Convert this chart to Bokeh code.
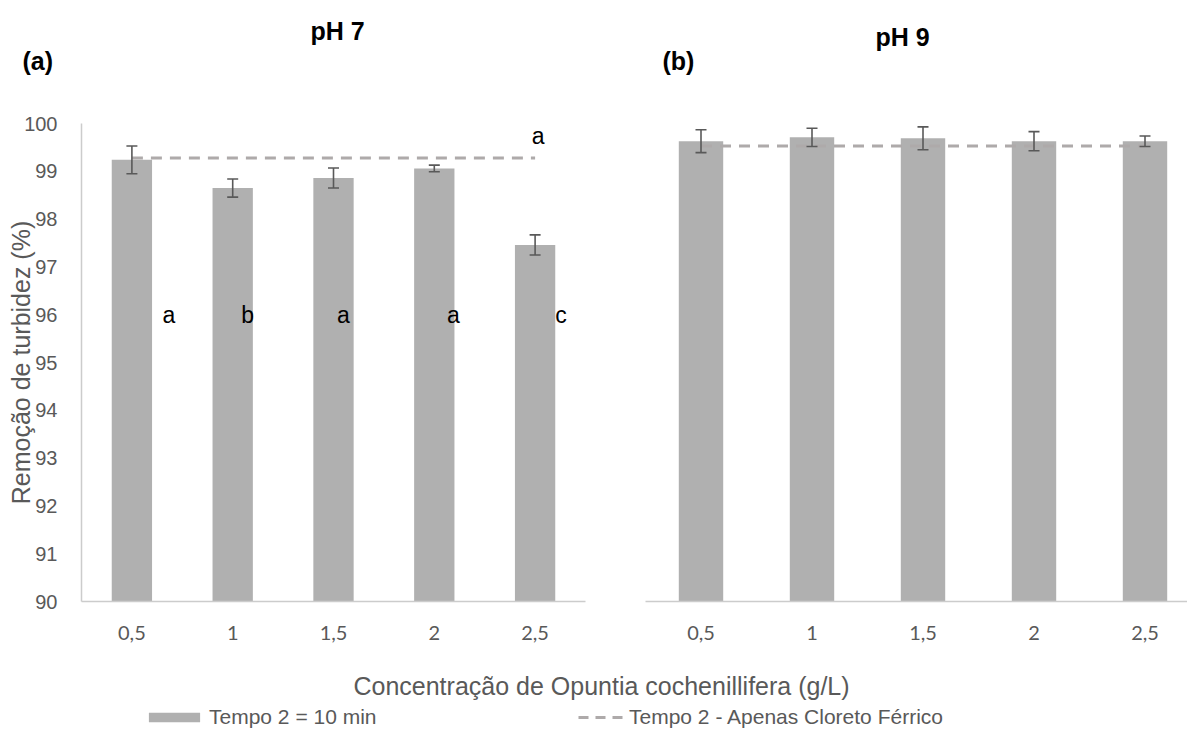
import numpy as np
from bokeh.plotting import figure
from bokeh.models import (Range1d, FixedTicker, Whisker, ColumnDataSource, Label,
                          Legend, LegendItem, TeeHead)
from bokeh.layouts import column, row
from bokeh.embed import file_html
from bokeh.resources import INLINE
from bokeh.core.properties import value

# ---------------- data ----------------
categories = ["0,5", "1", "1,5", "2", "2,5"]

ph7_mean = [99.24, 98.65, 98.86, 99.06, 97.46]
ph7_err = [0.29, 0.19, 0.21, 0.07, 0.21]
ph7_ref = 99.28
ph7_letters = ["a", "b", "a", "a", "c"]
ph7_ref_letter = "a"
letter_level = 96.0

ph9_mean = [99.63, 99.71, 99.69, 99.63, 99.63]
ph9_err = [0.24, 0.19, 0.24, 0.20, 0.11]
ph9_ref = 99.53

y_ticks = list(range(90, 101))

series_bar = "Tempo 2 = 10 min"
series_ref = "Tempo 2 - Apenas Cloreto Férrico"
x_title = "Concentração de Opuntia cochenillifera (g/L)"
y_title = "Remoção de turbidez (%)"

# ---------------- style ----------------
FONT = "Liberation Sans"
GREY_TXT = "#595959"
BAR = "#b0b0b0"
DASH = "#aeaaaa"
ERR = "#595959"
AXIS = "#cccccc"
DASH_PAT = "11 8"

HEAD_H = 100
TOP_BORDER = 23
FRAME_H = 478
BOTTOM_BORDER = 50
MID_H = TOP_BORDER + FRAME_H + BOTTOM_BORDER
BOT_H = 733 - HEAD_H - MID_H


def panel(mean, err, ref, width, min_left, min_right, x_end, show_y):
    n = len(categories)
    xs = list(range(1, n + 1))
    src = ColumnDataSource(dict(
        x=xs, top=mean,
        upper=[m + e for m, e in zip(mean, err)],
        lower=[m - e for m, e in zip(mean, err)],
    ))
    p = figure(width=width, height=MID_H, x_range=Range1d(0.5, x_end),
               y_range=Range1d(90, 100), output_backend="svg",
               toolbar_location=None, min_border_left=min_left,
               min_border_right=min_right, min_border_top=TOP_BORDER,
               min_border_bottom=BOTTOM_BORDER)
    p.outline_line_color = None
    p.grid.visible = False
    p.vbar(x="x", top="top", bottom=90, width=0.4, source=src,
           fill_color=BAR, line_color=None)
    p.line(x=[xs[0], xs[-1]], y=[ref, ref], line_color=DASH, line_width=3,
           line_dash=DASH_PAT)
    wh = Whisker(source=src, base="x", upper="upper", lower="lower",
                 line_color=ERR, line_width=1.6, level="overlay",
                 upper_head=TeeHead(size=11, line_color=ERR, line_width=1.6),
                 lower_head=TeeHead(size=11, line_color=ERR, line_width=1.6))
    p.add_layout(wh)

    xa = p.xaxis[0]
    xa.ticker = FixedTicker(ticks=xs)
    xa.major_label_overrides = {x: c for x, c in zip(xs, categories)}
    xa.major_tick_line_color = None
    xa.minor_tick_line_color = None
    xa.axis_line_color = AXIS
    xa.axis_line_width = 1.5
    xa.major_label_standoff = 18
    xa.major_label_text_font = "Lato"
    xa.major_label_text_font_size = "20px"
    xa.major_label_text_color = GREY_TXT

    ya = p.yaxis[0]
    if show_y:
        ya.ticker = FixedTicker(ticks=y_ticks)
        ya.major_tick_line_color = None
        ya.minor_tick_line_color = None
        ya.axis_line_color = AXIS
        ya.axis_line_width = 1.5
        ya.major_label_standoff = 18
        ya.major_label_text_font = FONT
        ya.major_label_text_font_size = "20px"
        ya.major_label_text_color = GREY_TXT
        ya.axis_label = y_title
        ya.axis_label_text_font = FONT
        ya.axis_label_text_font_size = "25px"
        ya.axis_label_text_font_style = "normal"
        ya.axis_label_text_color = GREY_TXT
        ya.axis_label_standoff = -14
    else:
        ya.visible = False
    return p, xs


pL, xsL = panel(ph7_mean, ph7_err, ph7_ref, 608, 81, 23, 5.5, True)
pR, xsR = panel(ph9_mean, ph9_err, ph9_ref, 579, 37, 0, 0.5 + 542 / 111, False)

# significance letters (panel a)
pL.text(x=xsL, y=[letter_level] * len(xsL), text=ph7_letters,
        x_offset=[37, 15, 10, 19, 26], text_align="center",
        text_baseline="middle", text_font=value(FONT), text_font_size="23px",
        text_color="black")
pL.text(x=[xsL[-1]], y=[ph7_ref], text=[ph7_ref_letter], x_offset=3,
        y_offset=-22, text_align="center", text_baseline="middle",
        text_font=value(FONT), text_font_size="23px", text_color="black")

# ---------------- header: panel titles ----------------
pH = figure(width=1187, height=HEAD_H, x_range=Range1d(0, 1), y_range=Range1d(0, 1),
            x_axis_type=None, y_axis_type=None, output_backend="svg",
            toolbar_location=None, min_border=0)
pH.outline_line_color = None
pH.grid.visible = False


def head(text, x, y_page, align):
    pH.add_layout(Label(x=x, y=HEAD_H - y_page, x_units="screen",
                        y_units="screen", text=text, text_align=align,
                        text_baseline="middle", text_font=FONT,
                        text_font_size="25px", text_font_style="bold",
                        text_color="black"))


head("(a)", 22, 60, "left")
head("pH 7", 337, 30, "center")
head("(b)", 662, 60, "left")
head("pH 9", 902, 36, "center")

# ---------------- bottom: x title + legends ----------------
pB = figure(width=1187, height=BOT_H, x_range=Range1d(0, 1), y_range=Range1d(0, 1),
            x_axis_type=None, y_axis_type=None, output_backend="svg",
            toolbar_location=None, min_border=0)
pB.outline_line_color = None
pB.grid.visible = False
r_bar = pB.vbar(x=[-10], top=[-10], bottom=-11, width=0.4, fill_color=BAR,
                line_color=None)
r_line = pB.line(x=[-10, -9], y=[-10, -10], line_color=DASH, line_width=3,
                 line_dash="10 7")

bot_top = HEAD_H + MID_H
pB.add_layout(Label(x=601, y=BOT_H - (685 - bot_top), x_units="screen",
                    y_units="screen", text=x_title, text_align="center",
                    text_baseline="middle", text_font=FONT,
                    text_font_size="25px", text_color=GREY_TXT))


def mk_legend(item_label, rend, x, gw):
    lg = Legend(items=[LegendItem(label=item_label, renderers=[rend])],
                location=(x, BOT_H - (717 - bot_top) - 12),
                orientation="horizontal",
                glyph_width=gw, glyph_height=12, label_standoff=3,
                label_text_font=FONT, label_text_font_size="21px",
                label_text_color=GREY_TXT, border_line_color=None,
                background_fill_alpha=0, padding=0, margin=0, spacing=0,
                label_height=12)
    pB.add_layout(lg, "center")


mk_legend(series_bar, r_bar, 142, 64)
mk_legend(series_ref, r_line, 578, 48)

layout = column(pH, row(pL, pR), pB)
open("out.html", "w").write(file_html(layout, INLINE))
